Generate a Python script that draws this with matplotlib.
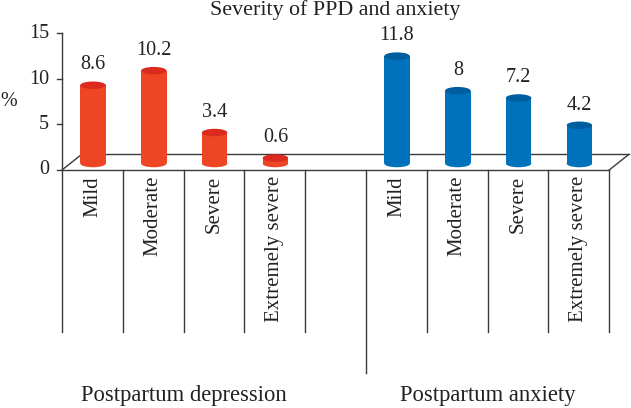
import matplotlib
matplotlib.use("Agg")
import matplotlib.pyplot as plt
from matplotlib.patches import Ellipse

# ---- data ----
categories = ["Mild", "Moderate", "Severe", "Extremely severe"]
groups = ["Postpartum depression", "Postpartum anxiety"]
ppd_values = [8.6, 10.2, 3.4, 0.6]
anxiety_values = [11.8, 8, 7.2, 4.2]
value_labels_ppd = ["8.6", "10.2", "3.4", "0.6"]
value_labels_anx = ["11.8", "8", "7.2", "4.2"]
yticks = [0, 5, 10, 15]
title = "Severity of PPD and anxiety"

# ---- layout helpers (pixels -> data) ----
W, H = 631, 408
X0, SLOT = 62.0, 60.8      # pixel x of slot 0, pixel width of a slot
Y0, UNIT = 170.0, 9.1      # pixel y of value 0, pixels per unit
def px(xp):  # pixel x -> data x
    return (xp - X0) / SLOT
def py(yp):  # pixel y (from top) -> data y
    return (Y0 - yp) / UNIT
dxp, dyp = 19.5 / SLOT, 15.5 / UNIT   # depth offset
base = py(163.5)                        # bar baseline (mid depth)
bar_w = 25.5 / SLOT
cap_h = 7.5 / UNIT

plt.rcParams['font.family'] = ['Liberation Serif', 'DejaVu Serif']
fig = plt.figure(figsize=(W / 100, H / 100), dpi=100)
ax = fig.add_axes([0, 0, 1, 1])
ax.set_xlim(px(0), px(W))
ax.set_ylim(py(H), py(0))
ax.axis('off')

lc = '#3a3a3a'
lw = 1.0
nslots = 9
# floor
ax.plot([0, nslots], [0, 0], color=lc, lw=lw, zorder=1)
ax.plot([0, dxp], [0, dyp], color=lc, lw=lw, zorder=1)
ax.plot([dxp, nslots + dxp], [dyp, dyp], color=lc, lw=lw, zorder=1)
ax.plot([nslots, nslots + dxp], [0, dyp], color=lc, lw=lw, zorder=1)
# y axis
ax.plot([0, 0], [py(332), yticks[-1]], color=lc, lw=lw, zorder=1)
for t in yticks:
    ax.plot([px(57), 0], [t, t], color=lc, lw=lw, zorder=1)
    ax.text(px(49), t, str(t), ha='right', va='center', fontsize=14.5, color='#222222')
ax.text(px(9), py(102), "%", ha='center', va='center', fontsize=14.5, color='#222222')
# dividers
for i in range(1, nslots + 1):
    bottom = py(373) if i == 5 else py(332)
    ax.plot([i, i], [0, bottom], color=lc, lw=lw, zorder=1)

def draw_cyl(xc, val, body, top):
    ax.bar([xc], [val], bottom=base, width=bar_w, color=body, zorder=3, linewidth=0)
    ax.add_patch(Ellipse((xc, base), bar_w, cap_h, facecolor=body, edgecolor='none', zorder=3))
    ax.add_patch(Ellipse((xc, base + val), bar_w, cap_h, facecolor=top, edgecolor='none', zorder=4))

red_body, red_top = '#EE4524', '#DC2A1E'
blue_body, blue_top = '#0072BC', '#005E9E'

series = [(ppd_values, value_labels_ppd, 0, red_body, red_top),
          (anxiety_values, value_labels_anx, 5, blue_body, blue_top)]
for vals, labs, start, body, top in series:
    for j, (v, lab, cat) in enumerate(zip(vals, labs, categories)):
        xc = start + j + 0.5 + 0.01
        draw_cyl(xc, v, body, top)
        ax.text(xc, base + v + cap_h / 2 + 7 / UNIT, lab, ha='center', va='bottom',
                fontsize=14.5, color='#222222')
        ax.text(start + j + 0.5, py(176), cat, rotation=90, ha='center', va='top',
                fontsize=15, color='#222222')

ax.text(2, py(395), groups[0], ha='center', va='center', fontsize=16.3, color='#222222')
ax.text(7, py(395), groups[1], ha='center', va='center', fontsize=16.3, color='#222222')
ax.text(px(335.5), py(10), title, ha='center', va='center', fontsize=15.8, color='#222222')

fig.savefig("out.png", dpi=100)
